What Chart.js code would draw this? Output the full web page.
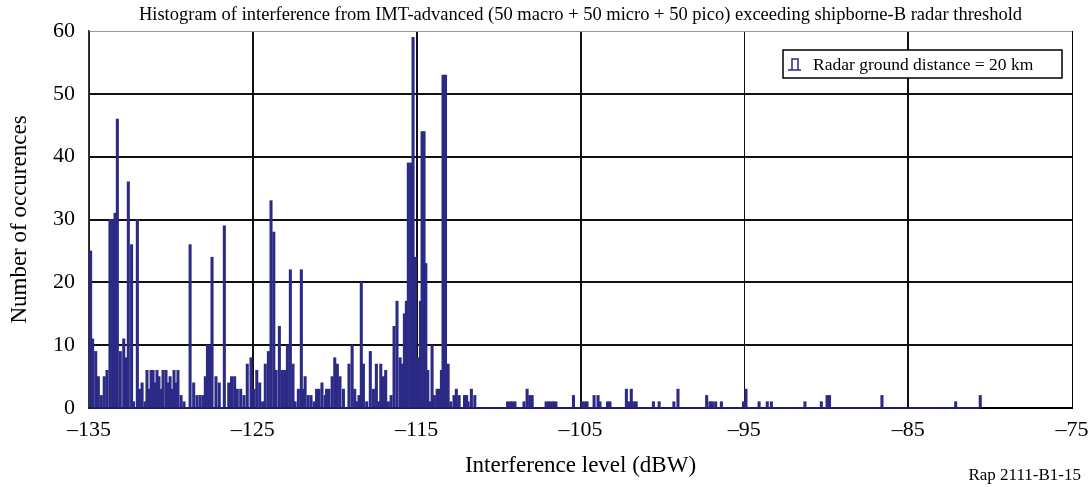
<!DOCTYPE html>
<html>
<head>
<meta charset="utf-8">
<script src="https://cdn.jsdelivr.net/npm/chart.js@4.4.1/dist/chart.umd.min.js"></script>
<style>
  html, body { margin: 0; padding: 0; background: #fff; }
  #wrap { width: 1088px; height: 487px; }
</style>
</head>
<body>
<div id="wrap"><canvas id="chart" width="1088" height="487"></canvas></div>
<script>
// interference level (dBW) of each non-empty histogram bin, and its count
const levels = [
  -134.90, -134.78, -134.59, -134.43, -134.25, -134.07, -133.90, -133.72, -133.56, -133.41,
  -133.27, -133.09, -132.88, -132.76, -132.60, -132.40, -132.28, -132.05, -131.91, -131.76,
  -131.58, -131.46, -131.34, -131.21, -131.09, -130.97, -130.85, -130.73, -130.60, -130.48,
  -130.30, -130.18, -130.05, -129.93, -129.81, -129.69, -129.57, -129.38, -129.20, -128.83,
  -128.61, -128.41, -128.22, -128.04, -127.90, -127.77, -127.63, -127.49, -127.25, -127.05,
  -126.74, -126.47, -126.30, -126.11, -125.95, -125.74, -125.54, -125.34, -125.11, -124.93,
  -124.76, -124.58, -124.40, -124.24, -124.05, -123.89, -123.72, -123.58, -123.38, -123.20,
  -123.05, -122.89, -122.71, -122.55, -122.42, -122.22, -122.04, -121.94, -121.81, -121.63,
  -121.45, -121.26, -121.11, -120.96, -120.78, -120.59, -120.50, -120.35, -120.16, -120.00,
  -119.84, -119.68, -119.47, -119.13, -118.94, -118.78, -118.64, -118.52, -118.38, -118.25,
  -118.05, -117.83, -117.64, -117.46, -117.31, -117.19, -117.03, -116.89, -116.73, -116.56,
  -116.38, -116.20, -116.01, -115.87, -115.75, -115.63, -115.51, -115.36, -115.22, -115.08,
  -114.91, -114.77, -114.67, -114.55, -114.44, -114.32, -114.20, -114.06, -113.92, -113.75,
  -113.63, -113.49, -113.39, -113.24, -113.08, -112.92, -112.72, -112.58, -112.41, -112.08,
  -111.95, -111.86, -111.66, -111.45,
  -109.45, -109.30, -109.15, -109.00, -108.45, -108.26, -108.10, -107.95, -107.10, -106.95,
  -106.80, -106.65, -106.50, -105.43, -104.90, -104.75, -104.60, -104.17, -103.93, -103.81,
  -103.35, -103.20, -102.20, -102.05, -101.90, -101.75, -101.60, -100.55, -100.20, -99.30,
  -99.05, -97.30, -97.10, -96.95, -96.75, -96.40, -95.05, -94.90, -94.10, -93.60,
  -93.35, -91.30, -90.30, -89.95, -89.80, -86.60, -82.10, -80.60
];
const occurrences = [
  25, 11, 9, 5, 2, 5, 6, 30, 30, 31,
  46, 9, 11, 8, 36, 26, 1, 30, 3, 4,
  1, 6, 3, 6, 6, 4, 6, 5, 3, 6,
  6, 4, 5, 3, 6, 4, 6, 2, 1, 26,
  4, 2, 2, 2, 5, 10, 10, 24, 5, 4,
  29, 4, 5, 5, 3, 3, 2, 7, 8, 3,
  6, 4, 1, 7, 9, 33, 28, 6, 13, 6,
  6, 10, 22, 7, 1, 3, 22, 3, 5, 2,
  2, 1, 3, 3, 4, 2, 3, 3, 5, 8,
  7, 5, 3, 7, 10, 3, 1, 2, 20, 7,
  1, 9, 3, 7, 1, 7, 5, 6, 1, 2,
  13, 17, 8, 7, 15, 17, 39, 39, 59, 24,
  8, 17, 44, 44, 23, 6, 1, 10, 2, 3,
  3, 6, 53, 53, 7, 1, 2, 3, 2, 2,
  2, 1, 3, 2,
  1, 1, 1, 1, 1, 3, 2, 2, 1, 1,
  1, 1, 1, 2, 1, 1, 1, 2, 2, 1,
  1, 1, 3, 1, 3, 1, 1, 1, 1, 1,
  3, 2, 1, 1, 1, 1, 1, 3, 1, 1,
  1, 1, 1, 2, 2, 2, 1, 2
];
const xTicks = [-135, -125, -115, -105, -95, -85, -75];
const yTicks = [0, 10, 20, 30, 40, 50, 60];

const chartTitle = 'Histogram of interference from IMT-advanced (50 macro + 50 micro + 50 pico) exceeding shipborne-B radar threshold';
const seriesLabel = 'Radar ground distance = 20 km';
const figureRef = 'Rap 2111-B1-15';

const serif = "'Liberation Serif', 'DejaVu Serif', serif";
const barColor = '#2b2a86';

const histData = levels.map((x, i) => ({ x: x, y: occurrences[i] }));

// title, legend box and figure reference
const decorations = {
    id: 'decorations',
    afterDraw(chart) {
        const ctx = chart.ctx;
        const area = chart.chartArea;
        ctx.save();
        ctx.fillStyle = '#000';
        ctx.font = '18.5px ' + serif;
        ctx.textAlign = 'center';
        ctx.textBaseline = 'middle';
        ctx.fillText(chartTitle, (area.left + area.right) / 2, 15);

        // legend
        const bx = 783, by = 50, bw = 279, bh = 28;
        ctx.fillStyle = '#fff';
        ctx.fillRect(bx, by, bw, bh);
        ctx.strokeStyle = '#000';
        ctx.lineWidth = 1.5;
        ctx.strokeRect(bx, by, bw, bh);
        ctx.strokeStyle = barColor;
        ctx.lineWidth = 1.5;
        ctx.beginPath();
        ctx.moveTo(788, 70); ctx.lineTo(801, 70);
        ctx.moveTo(792, 70); ctx.lineTo(792, 59); ctx.lineTo(798, 59); ctx.lineTo(798, 70);
        ctx.stroke();
        ctx.fillStyle = '#000';
        ctx.font = '17.5px ' + serif;
        ctx.textAlign = 'left';
        ctx.fillText(seriesLabel, 813, by + bh / 2 + 1);

        ctx.font = '17px ' + serif;
        ctx.textAlign = 'right';
        ctx.fillText(figureRef, 1081, 476);
        ctx.restore();
    }
};

const config = {
    type: 'bar',
    data: {
        datasets: [
            {
                type: 'line',
                data: [{ x: levels[0], y: 0 }, { x: levels[levels.length - 1], y: 0 }],
                borderColor: barColor,
                borderWidth: 1.5,
                pointRadius: 0,
                clip: false,
                order: 0
            },
            {
                label: seriesLabel,
                data: histData,
                backgroundColor: barColor,
                borderWidth: 0,
                barThickness: 2.4,
                order: 1
            }
        ]
    },
    options: {
        responsive: false,
        animation: false,
        devicePixelRatio: 1,
        layout: { padding: { left: 0, top: 31, right: 16, bottom: 0 } },
        plugins: {
            legend: { display: false },
            title: { display: false },
            tooltip: { enabled: false }
        },
        scales: {
            x: {
                type: 'linear',
                min: -135,
                max: -75,
                offset: false,
                afterBuildTicks: s => { s.ticks = xTicks.map(v => ({ value: v })); },
                afterFit: s => { s.height = 79; s.paddingLeft = 0; s.paddingRight = 0; },
                ticks: {
                    color: '#000',
                    font: { family: serif, size: 22 },
                    padding: 9,
                    maxRotation: 0,
                    callback: v => (v < 0 ? '\u2013' + Math.abs(v) : '' + v)
                },
                grid: {
                    offset: false,
                    drawTicks: false,
                    color: c => (c.tick && c.tick.value === -75 ? '#000' : '#111'),
                    lineWidth: c => (c.tick && (c.tick.value === -95 || c.tick.value === -75) ? 1 : 2)
                },
                border: { display: true, color: '#000', width: 2 },
                title: {
                    display: true,
                    text: 'Interference level (dBW)',
                    color: '#000',
                    font: { family: serif, size: 23 },
                    padding: { top: 4, bottom: 7 }
                }
            },
            y: {
                min: 0,
                max: 60,
                afterBuildTicks: s => { s.ticks = yTicks.map(v => ({ value: v })); },
                afterFit: s => { s.width = 89; s.paddingTop = 0; s.paddingBottom = 0; },
                ticks: {
                    color: '#000',
                    font: { family: serif, size: 22 },
                    padding: 14
                },
                grid: {
                    drawTicks: false,
                    color: c => (c.tick && c.tick.value === 60 ? '#999' : '#111'),
                    lineWidth: c => (c.tick && c.tick.value === 60 ? 1 : 2)
                },
                border: { display: true, color: '#333', width: 1.5 },
                title: {
                    display: true,
                    text: 'Number of occurences',
                    color: '#000',
                    font: { family: serif, size: 23 },
                    padding: { top: 6, bottom: 4 }
                }
            }
        }
    },
    plugins: [decorations]
};

const ctx = document.getElementById('chart').getContext('2d');
new Chart(ctx, config);
</script>
</body>
</html>
